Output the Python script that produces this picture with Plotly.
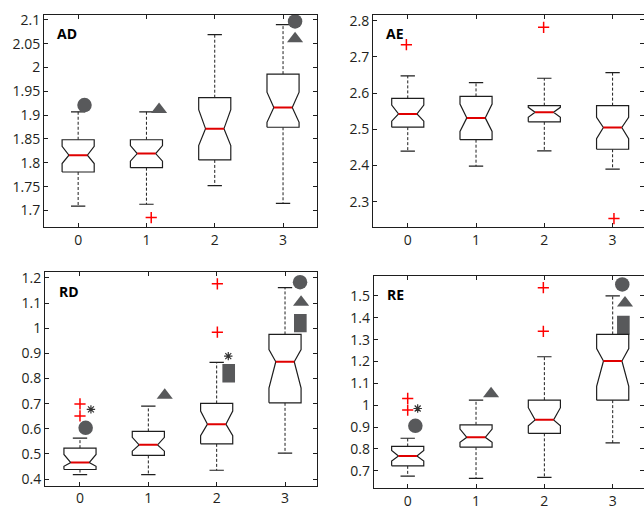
import plotly.graph_objects as go

# ---------------- data ----------------
CATS = [0, 1, 2, 3]
X_LABELS = ["0", "1", "2", "3"]

# AD panel
AD_LF = [1.709, 1.713, 1.752, 1.715]
AD_Q1 = [1.7807, 1.7897, 1.806, 1.8745]
AD_NLO = [1.7985, 1.8035, 1.836, 1.885]
AD_MED = [1.8159, 1.8193, 1.8716, 1.916]
AD_NHI = [1.8345, 1.836, 1.9116, 1.948]
AD_Q3 = [1.8483, 1.8483, 1.9365, 1.986]
AD_UF = [1.907, 1.907, 2.069, 2.0897]
AD_OUT_X = [1.07]
AD_OUT_Y = [1.685]
AD_CIRC_X = [0.093, 3.176]
AD_CIRC_Y = [1.921, 2.0966]
AD_TRI_X = [1.185, 3.176]
AD_TRI_Y = [1.912, 2.060]
AD_TICKS = [1.7, 1.75, 1.8, 1.85, 1.9, 1.95, 2.0, 2.05, 2.1]
AD_TICKTEXT = ["1.7", "1.75", "1.8", "1.85", "1.9", "1.95", "2", "2.05", "2.1"]

# AE panel
AE_LF = [2.4393, 2.3982, 2.4402, 2.390]
AE_Q1 = [2.5059, 2.4712, 2.5205, 2.4447]
AE_NLO = [2.5224, 2.4941, 2.5333, 2.474]
AE_MED = [2.5425, 2.5315, 2.547, 2.505]
AE_NHI = [2.5671, 2.5699, 2.5607, 2.5333]
AE_Q3 = [2.5854, 2.5909, 2.5653, 2.5653]
AE_UF = [2.6475, 2.6292, 2.6411, 2.6566]
AE_OUT_X = [-0.02, 1.99, 3.02]
AE_OUT_Y = [2.734, 2.782, 2.253]
AE_TICKS = [2.3, 2.4, 2.5, 2.6, 2.7, 2.8]
AE_TICKTEXT = ["2.3", "2.4", "2.5", "2.6", "2.7", "2.8"]

# RD panel
RD_LF = [0.418, 0.418, 0.435, 0.503]
RD_Q1 = [0.438, 0.494, 0.540, 0.703]
RD_NLO = [0.451, 0.511, 0.5725, 0.762]
RD_MED = [0.4654, 0.536, 0.6183, 0.8667]
RD_NHI = [0.498, 0.566, 0.6706, 0.915]
RD_Q3 = [0.523, 0.5895, 0.7007, 0.9752]
RD_UF = [0.563, 0.690, 0.864, 1.161]
RD_OUT_X = [0.0, 0.0, 2.01, 2.01]
RD_OUT_Y = [0.699, 0.651, 1.1765, 0.984]
RD_CIRC_X = [0.083, 3.22]
RD_CIRC_Y = [0.604, 1.183]
RD_TRI_X = [1.24, 3.235]
RD_TRI_Y = [0.733, 1.103]
RD_RECT_X = [2.176, 3.224]
RD_RECT_LO = [0.784, 0.984]
RD_RECT_HI = [0.8575, 1.056]
RD_AST_X = [0.16, 2.17]
RD_AST_Y = [0.677, 0.889]
RD_TICKS = [0.4, 0.5, 0.6, 0.7, 0.8, 0.9, 1.0, 1.1, 1.2]
RD_TICKTEXT = ["0.4", "0.5", "0.6", "0.7", "0.8", "0.9", "1", "1.1", "1.2"]

# RE panel
RE_LF = [0.676, 0.6654, 0.670, 0.8278]
RE_Q1 = [0.7226, 0.8083, 0.8714, 1.0233]
RE_NLO = [0.7451, 0.8308, 0.906, 1.0865]
RE_MED = [0.7677, 0.8534, 0.9331, 1.2023]
RE_NHI = [0.7932, 0.891, 0.9887, 1.2594]
RE_Q3 = [0.8113, 0.9105, 1.0233, 1.324]
RE_UF = [0.849, 1.0233, 1.2218, 1.500]
RE_OUT_X = [0.0, 0.0, 1.985, 1.985]
RE_OUT_Y = [1.031, 0.978, 1.538, 1.338]
RE_CIRC_X = [0.112, 3.14]
RE_CIRC_Y = [0.906, 1.553]
RE_TRI_X = [1.22, 3.18]
RE_TRI_Y = [1.052, 1.468]
RE_RECT_X = [3.156]
RE_RECT_LO = [1.324]
RE_RECT_HI = [1.410]
RE_AST_X = [0.146]
RE_AST_Y = [0.985]
RE_TICKS = [0.7, 0.8, 0.9, 1.0, 1.1, 1.2, 1.3, 1.4, 1.5]
RE_TICKTEXT = ["0.7", "0.8", "0.9", "1", "1.1", "1.2", "1.3", "1.4", "1.5"]

# ---------------- styling ----------------
W, H = 644, 510
BOX_HALF = 0.235
NOTCH_IN = 0.1
CAP_HALF = 0.105
RECT_W = 0.185
GREY = "#58595b"
RED = "#e00000"
LINE = "#1e1e1e"
FONT = "Open Sans"

fig = go.Figure()


def add_panel(sfx, lf, q1, nlo, med, nhi, q3, uf, out_x, out_y,
              circ=None, tri=None, rect=None, ast=None):
    xa, ya = "x" + sfx, "y" + sfx
    wx, wy, cx, cy, bx, by, mx, my = [], [], [], [], [], [], [], []
    for c, a_lf, a_q1, a_nlo, a_med, a_nhi, a_q3, a_uf in zip(CATS, lf, q1, nlo, med, nhi, q3, uf):
        wx += [c, c, None, c, c, None]
        wy += [a_q3, a_uf, None, a_q1, a_lf, None]
        cx += [c - CAP_HALF, c + CAP_HALF, None, c - CAP_HALF, c + CAP_HALF, None]
        cy += [a_uf, a_uf, None, a_lf, a_lf, None]
        l, r = c - BOX_HALF, c + BOX_HALF
        bx += [l, l, l + NOTCH_IN, l, l, r, r, r - NOTCH_IN, r, r, l, None]
        by += [a_q1, a_nlo, a_med, a_nhi, a_q3, a_q3, a_nhi, a_med, a_nlo, a_q1, a_q1, None]
        mx += [l + NOTCH_IN, r - NOTCH_IN, None]
        my += [a_med, a_med, None]
    fig.add_trace(go.Scatter(x=wx, y=wy, mode="lines", xaxis=xa, yaxis=ya,
                             line=dict(color=LINE, width=1, dash="3px,2px"), hoverinfo="skip"))
    fig.add_trace(go.Scatter(x=cx, y=cy, mode="lines", xaxis=xa, yaxis=ya,
                             line=dict(color=LINE, width=1.2), hoverinfo="skip"))
    fig.add_trace(go.Scatter(x=bx, y=by, mode="lines", fill="toself", fillcolor="white",
                             xaxis=xa, yaxis=ya, line=dict(color=LINE, width=1.2), hoverinfo="skip"))
    fig.add_trace(go.Scatter(x=mx, y=my, mode="lines", xaxis=xa, yaxis=ya,
                             line=dict(color=RED, width=2), hoverinfo="skip"))
    fig.add_trace(go.Scatter(x=out_x, y=out_y, mode="markers", xaxis=xa, yaxis=ya,
                             marker=dict(symbol="cross-thin", size=8, color="red",
                                         line=dict(color="red", width=1.5)), hoverinfo="skip"))
    if rect is not None:
        rx, rlo, rhi = rect
        fig.add_trace(go.Bar(x=rx, y=[h - b for b, h in zip(rlo, rhi)], base=rlo,
                             width=RECT_W, xaxis=xa, yaxis=ya,
                             marker=dict(color=GREY, line=dict(width=0)), hoverinfo="skip"))
    if circ is not None:
        fig.add_trace(go.Scatter(x=circ[0], y=circ[1], mode="markers", xaxis=xa, yaxis=ya,
                                 marker=dict(symbol="circle", size=14.5, color=GREY,
                                             line=dict(width=0)), hoverinfo="skip"))
    if tri is not None:
        fig.add_trace(go.Scatter(x=tri[0], y=tri[1], mode="markers", xaxis=xa, yaxis=ya,
                                 marker=dict(symbol="triangle-up", size=14, color=GREY,
                                             line=dict(width=0)), hoverinfo="skip"))
    if ast is not None:
        fig.add_trace(go.Scatter(x=ast[0], y=ast[1], mode="markers", xaxis=xa, yaxis=ya,
                                 marker=dict(symbol="asterisk-open", size=7, color="#333333",
                                             line=dict(color="#333333", width=1.2)),
                                 hoverinfo="skip"))


add_panel("", AD_LF, AD_Q1, AD_NLO, AD_MED, AD_NHI, AD_Q3, AD_UF, AD_OUT_X, AD_OUT_Y,
          circ=(AD_CIRC_X, AD_CIRC_Y), tri=(AD_TRI_X, AD_TRI_Y))
add_panel("2", AE_LF, AE_Q1, AE_NLO, AE_MED, AE_NHI, AE_Q3, AE_UF, AE_OUT_X, AE_OUT_Y)
add_panel("3", RD_LF, RD_Q1, RD_NLO, RD_MED, RD_NHI, RD_Q3, RD_UF, RD_OUT_X, RD_OUT_Y,
          circ=(RD_CIRC_X, RD_CIRC_Y), tri=(RD_TRI_X, RD_TRI_Y),
          rect=(RD_RECT_X, RD_RECT_LO, RD_RECT_HI), ast=(RD_AST_X, RD_AST_Y))
add_panel("4", RE_LF, RE_Q1, RE_NLO, RE_MED, RE_NHI, RE_Q3, RE_UF, RE_OUT_X, RE_OUT_Y,
          circ=(RE_CIRC_X, RE_CIRC_Y), tri=(RE_TRI_X, RE_TRI_Y),
          rect=(RE_RECT_X, RE_RECT_LO, RE_RECT_HI), ast=(RE_AST_X, RE_AST_Y))

# placeholder traces so the right-hand tick axes are drawn
fig.add_trace(go.Scatter(x=[None], y=[None], xaxis="x2", yaxis="y5", hoverinfo="skip"))
fig.add_trace(go.Scatter(x=[None], y=[None], xaxis="x4", yaxis="y6", hoverinfo="skip"))

tickfont = dict(family=FONT, size=14, color="#231f20")
base_ax = dict(ticks="inside", ticklen=4, tickwidth=1, tickcolor=LINE, showline=True,
               linecolor=LINE, linewidth=1, showgrid=False, zeroline=False,
               tickfont=tickfont)


def xdom(a, b):
    return [a / W, min(b / W, 1.0)]


def ydom(top, bottom):
    return [1 - bottom / H, 1 - top / H]


AD_RANGE = [1.6655, 2.1103]
RE_RANGE = [0.620, 1.5903]

fig.update_layout(
    width=W, height=H, margin=dict(l=0, r=0, t=0, b=0),
    paper_bgcolor="white", plot_bgcolor="white", showlegend=False, barmode="overlay",
    xaxis=dict(base_ax, domain=xdom(44, 316.5), anchor="y", range=[-0.5, 3.49],
               tickvals=CATS, ticktext=X_LABELS, mirror="ticks"),
    yaxis=dict(base_ax, domain=ydom(10, 225), anchor="x", range=AD_RANGE,
               tickvals=AD_TICKS, ticktext=AD_TICKTEXT, mirror="ticks"),
    xaxis2=dict(base_ax, domain=xdom(373, 644), anchor="y2", range=[-0.509, 3.46],
                tickvals=CATS, ticktext=X_LABELS, mirror="ticks"),
    yaxis2=dict(base_ax, domain=ydom(10, 225), anchor="x2", range=[2.23, 2.8164],
                tickvals=AE_TICKS, ticktext=AE_TICKTEXT, mirror=False),
    yaxis5=dict(base_ax, overlaying="y2", side="right", anchor="x2", range=AD_RANGE,
                tickvals=AD_TICKS, showticklabels=False, showline=False),
    xaxis3=dict(base_ax, domain=xdom(45, 317), anchor="y3", range=[-0.512, 3.468],
                tickvals=CATS, ticktext=X_LABELS, mirror="ticks"),
    yaxis3=dict(base_ax, domain=ydom(270.7, 487.3), anchor="x3", range=[0.374, 1.2235],
                tickvals=RD_TICKS, ticktext=RD_TICKTEXT, mirror="ticks"),
    xaxis4=dict(base_ax, domain=xdom(373.7, 644), anchor="y4", range=[-0.4976, 3.4581],
                tickvals=CATS, ticktext=X_LABELS, mirror="ticks"),
    yaxis4=dict(base_ax, domain=ydom(275, 490), anchor="x4", range=RE_RANGE,
                tickvals=RE_TICKS, ticktext=RE_TICKTEXT, mirror=False),
    yaxis6=dict(base_ax, overlaying="y4", side="right", anchor="x4", range=RE_RANGE,
                tickvals=RE_TICKS, showticklabels=False, showline=False),
)

PANEL_LABELS = ["AD", "AE", "RD", "RE"]
label_pos = [(55, 17), (384.3, 17.7), (57.3, 278.7), (384.7, 282)]
for txt, (lx, ly) in zip(PANEL_LABELS, label_pos):
    fig.add_annotation(text="<b>" + txt + "</b>", xref="paper", yref="paper",
                       x=lx / W, y=1 - ly / H, xanchor="left", yanchor="top",
                       showarrow=False, font=dict(family=FONT, size=14, color="black"))

fig.write_html("out.html", config={"displayModeBar": False},
               post_script="document.body.style.margin='0';document.body.style.overflow='hidden';")
